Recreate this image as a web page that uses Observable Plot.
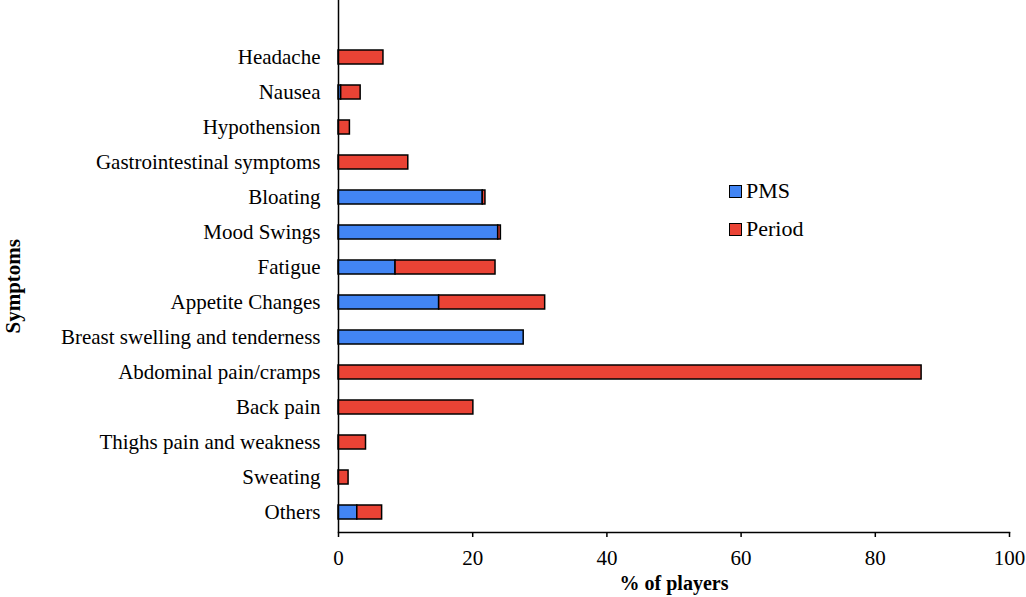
<!DOCTYPE html>
<html>
<head>
<meta charset="utf-8">
<script src="https://cdn.jsdelivr.net/npm/d3@7"></script>
<script src="https://cdn.jsdelivr.net/npm/@observablehq/plot@0.6"></script>
<style>
  html, body { margin: 0; padding: 0; background: #fff; }
  #wrap { position: relative; width: 1026px; height: 597px; }
  .legend { position: absolute; left: 729px; top: 172px; font-family: "Liberation Serif", serif; font-size: 22px; color: #000; }
  .legend .item { display: flex; align-items: center; height: 38px; }
  .legend .sw { width: 11px; height: 11px; border: 1.5px solid #000; margin-right: 4px; }
</style>
</head>
<body>
<div id="wrap"></div>
<script>
const categories = [
  "Headache", "Nausea", "Hypothension", "Gastrointestinal symptoms", "Bloating",
  "Mood Swings", "Fatigue", "Appetite Changes", "Breast swelling and tenderness",
  "Abdominal pain/cramps", "Back pain", "Thighs pain and weakness", "Sweating", "Others"
];
const pms    = [0, 0.4, 0, 0, 21.5, 23.8, 8.5, 15.0, 27.6, 0, 0, 0, 0, 2.8];
const period = [6.7, 2.9, 1.7, 10.4, 0.4, 0.4, 14.9, 15.8, 0, 86.9, 20.1, 4.1, 1.5, 3.7];
const seriesNames = ["PMS", "Period"];
const seriesColors = ["#4285f4", "#ea4335"];
const xTicks = [0, 20, 40, 60, 80, 100];

const rows = [];
categories.forEach((c, i) => {
  rows.push({symptom: c, series: "PMS", value: pms[i]});
  rows.push({symptom: c, series: "Period", value: period[i]});
});

const font = "Liberation Serif, Times New Roman, serif";

const chart = Plot.plot({
  width: 1026,
  height: 597,
  marginLeft: 338,
  marginRight: 17,
  marginTop: 0,
  marginBottom: 65,
  style: {fontFamily: font, fontSize: "21px", background: "#fff", color: "#000"},
  x: {domain: [0, 100], ticks: xTicks},
  y: {domain: categories, range: [37.35, 531.65], paddingInner: 0.6, paddingOuter: 0.3},
  color: {domain: seriesNames, range: seriesColors},
  marks: [
    Plot.barX(rows, Plot.stackX({
      x: "value", y: "symptom", fill: "series", order: seriesNames,
      stroke: "#000", strokeWidth: 1.5, inset: 0
    })),
    Plot.ruleX([0], {stroke: "#000", strokeWidth: 1.5}),
    Plot.frame({anchor: "bottom", stroke: "#000", strokeWidth: 1.5}),
    Plot.axisX({ticks: xTicks, tickSize: 5, tickPadding: 13, label: null, fontSize: 21, strokeWidth: 1.5}),
    Plot.axisY({tickSize: 0, tickPadding: 18, label: null, fontSize: 21}),
    Plot.text(["% of players"], {frameAnchor: "bottom", dy: 57, fontWeight: "bold", fontSize: 20}),
    Plot.text(["Symptoms"], {frameAnchor: "left", dx: -325, dy: 67, rotate: -90, fontWeight: "bold", fontSize: 21})
  ]
});

const wrap = document.getElementById("wrap");
wrap.appendChild(chart);

const legend = document.createElement("div");
legend.className = "legend";
seriesNames.forEach((name, i) => {
  const item = document.createElement("div");
  item.className = "item";
  const sw = document.createElement("span");
  sw.className = "sw";
  sw.style.background = seriesColors[i];
  const t = document.createElement("span");
  t.textContent = name;
  item.appendChild(sw);
  item.appendChild(t);
  legend.appendChild(item);
});
wrap.appendChild(legend);
</script>
</body>
</html>
